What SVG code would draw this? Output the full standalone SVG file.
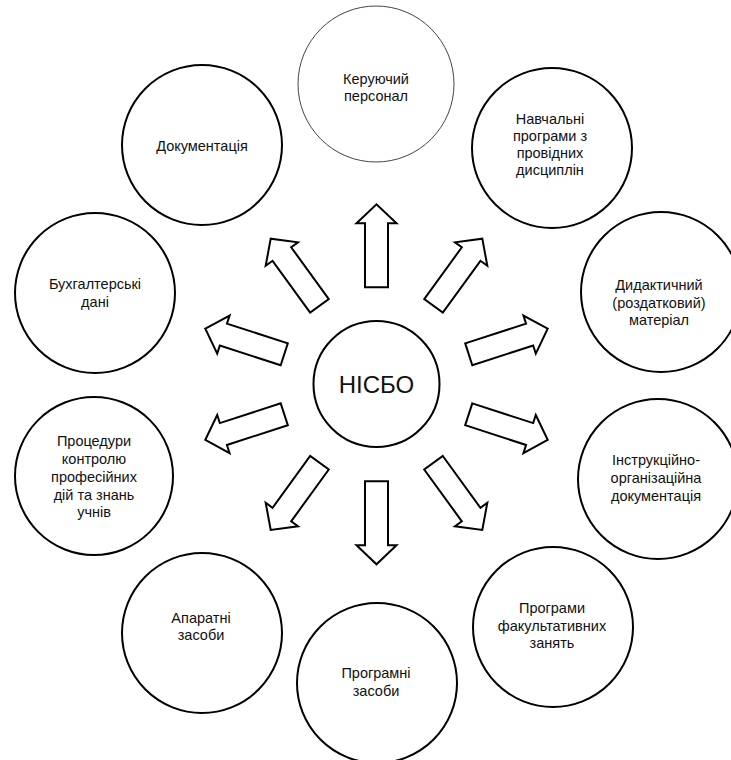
<svg xmlns="http://www.w3.org/2000/svg" width="731" height="760" viewBox="0 0 731 760">
<style>
.node{fill:#fff;stroke:#000;stroke-width:2}
.thin{fill:#fff;stroke:#444;stroke-width:1}
.lbl{font-family:"Liberation Sans",Arial,sans-serif;font-size:14.5px;fill:#111;text-anchor:middle}
.big{font-family:"Liberation Sans",Arial,sans-serif;font-size:24px;fill:#111;text-anchor:middle}
.arrow{fill:#fff;stroke:#000;stroke-width:2;stroke-linejoin:miter}
</style>
<defs>
<path id="arr" d="M97,-11.5 L161,-11.5 L161,-20 L180,0 L161,20 L161,11.5 L97,11.5 Z"/>
</defs>
<rect width="731" height="760" fill="#fff"/>
<g id="connectors" class="arrow">
<use href="#arr" transform="translate(376.5,384.3) rotate(-90)"/>
<use href="#arr" transform="translate(376.5,384.3) rotate(-54)"/>
<use href="#arr" transform="translate(376.5,384.3) rotate(-18)"/>
<use href="#arr" transform="translate(376.5,384.3) rotate(18)"/>
<use href="#arr" transform="translate(376.5,384.3) rotate(54)"/>
<use href="#arr" transform="translate(376.5,384.3) rotate(90)"/>
<use href="#arr" transform="translate(376.5,384.3) rotate(126)"/>
<use href="#arr" transform="translate(376.5,384.3) rotate(162)"/>
<use href="#arr" transform="translate(376.5,384.3) rotate(198)"/>
<use href="#arr" transform="translate(376.5,384.3) rotate(234)"/>
</g>
<g id="center">
<circle class="node" cx="376.5" cy="384" r="63"/>
<text class="big" x="376.5" y="393">НІСБО</text>
</g>
<g id="keruyuchyi">
<circle class="thin" cx="376" cy="84" r="78"/>
<text class="lbl" x="376" y="84">Керуючий</text>
<text class="lbl" x="376" y="101">персонал</text>
</g>
<g id="navchalni">
<circle class="node" cx="552" cy="148" r="80"/>
<text class="lbl" x="550" y="124">Навчальні</text>
<text class="lbl" x="550" y="141">програми з</text>
<text class="lbl" x="550" y="158">провідних</text>
<text class="lbl" x="550" y="175">дисциплін</text>
</g>
<g id="dydaktychnyi">
<circle class="node" cx="661" cy="292" r="80"/>
<text class="lbl" x="659" y="290">Дидактичний</text>
<text class="lbl" x="659" y="308">(роздатковий)</text>
<text class="lbl" x="659" y="325">матеріал</text>
</g>
<g id="instruktsiino">
<circle class="node" cx="658" cy="479" r="80"/>
<text class="lbl" x="656" y="465">Інструкційно-</text>
<text class="lbl" x="656" y="483">організаційна</text>
<text class="lbl" x="656" y="501">документація</text>
</g>
<g id="fakultatyvni">
<circle class="node" cx="553" cy="627" r="80"/>
<text class="lbl" x="552" y="613">Програми</text>
<text class="lbl" x="552" y="631">факультативних</text>
<text class="lbl" x="552" y="648">занять</text>
</g>
<g id="prohramni">
<circle class="node" cx="377" cy="683" r="80"/>
<text class="lbl" x="376" y="678">Програмні</text>
<text class="lbl" x="376" y="696">засоби</text>
</g>
<g id="aparatni">
<circle class="node" cx="202" cy="633" r="80"/>
<text class="lbl" x="201" y="623">Апаратні</text>
<text class="lbl" x="201" y="640">засоби</text>
</g>
<g id="protsedury">
<circle class="node" cx="94" cy="476" r="79"/>
<text class="lbl" x="94" y="446">Процедури</text>
<text class="lbl" x="94" y="464">контролю</text>
<text class="lbl" x="94" y="482">професійних</text>
<text class="lbl" x="94" y="500">дій та знань</text>
<text class="lbl" x="94" y="517">учнів</text>
</g>
<g id="bukhhalterski">
<circle class="node" cx="95" cy="293" r="80"/>
<text class="lbl" x="95" y="289">Бухгалтерські</text>
<text class="lbl" x="95" y="307">дані</text>
</g>
<g id="dokumentatsiia">
<circle class="node" cx="202" cy="145" r="80"/>
<text class="lbl" x="202" y="151">Документація</text>
</g>
</svg>
